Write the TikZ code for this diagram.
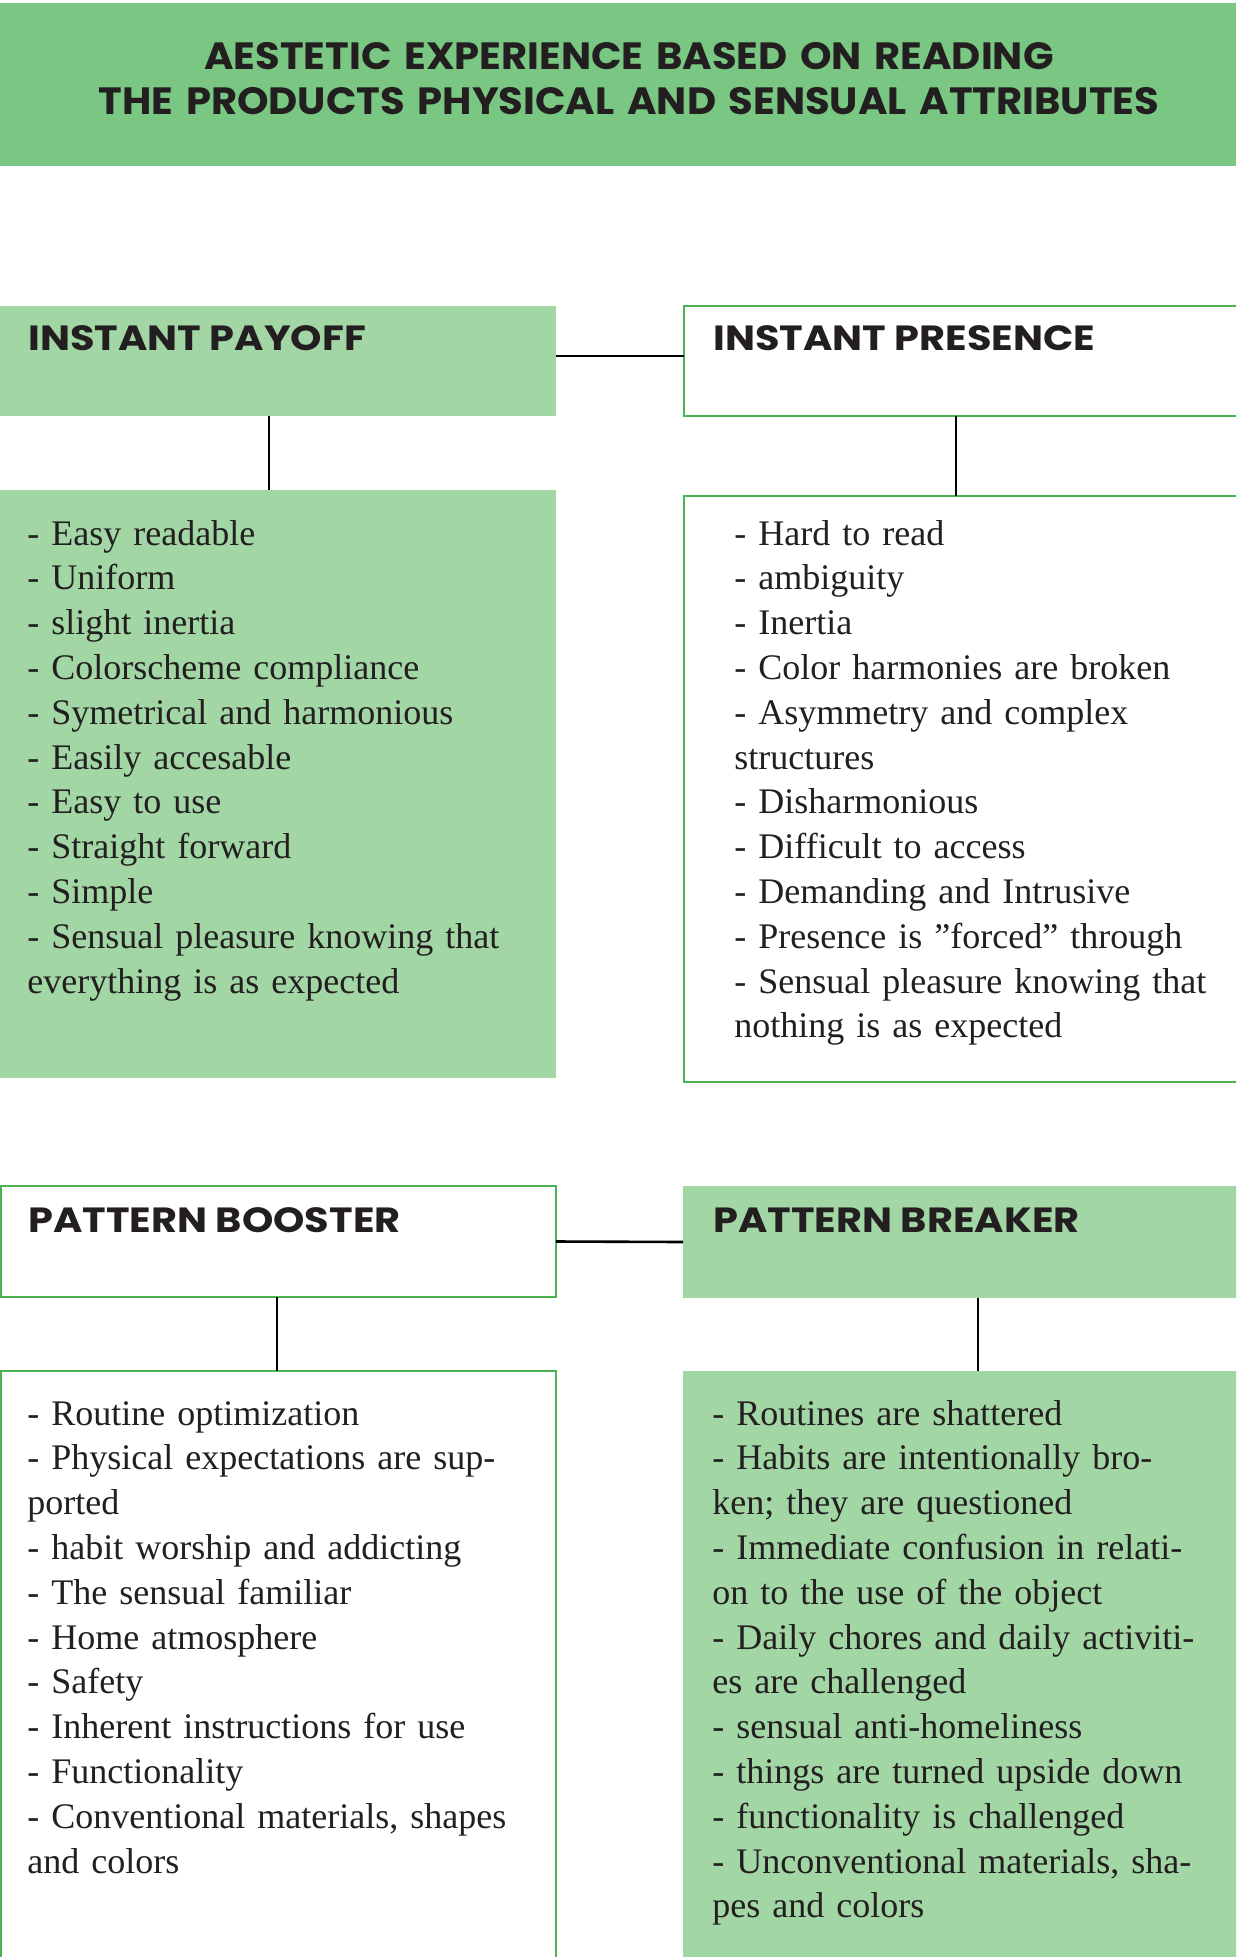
\documentclass[tikz,border=0pt]{standalone}
\usepackage{fontspec}
\setmainfont{Liberation Serif}
\newfontfamily\headfont{Poppins}[FakeStretch=1.14]
\newfontfamily\titlefont{Poppins}[FakeStretch=1.055]
\usetikzlibrary{positioning}
\definecolor{headgreen}{RGB}{121,199,131}
\definecolor{softgreen}{RGB}{162,214,165}
\definecolor{linegreen}{RGB}{76,178,82}
\definecolor{ink}{RGB}{35,31,32}
\tikzstyle{filled box}=[anchor=north west, inner sep=0pt, outer sep=0pt, fill=softgreen]
\tikzstyle{open box}=[anchor=north west, inner sep=0pt, outer sep=0pt, draw=linegreen, line width=1.3pt, fill=white]
\tikzstyle{heading}=[anchor=base west, inner sep=0pt, text=ink, font=\headfont\bfseries\fontsize{17.5pt}{21pt}\selectfont]
\tikzstyle{list}=[anchor=base west, inner sep=0pt, text=ink, text width=300pt, align=left, font=\fontsize{18pt}{22.4pt}\selectfont]
\tikzstyle{bridge}=[line width=1.3pt, black]
\tikzstyle{stem}=[line width=0.8pt, black]

\begin{document}
\begin{tikzpicture}[x=0.5pt, y=-0.5pt]
      \useasboundingbox (0,0) rectangle (1236,1957);
      \clip (0,0) rectangle (1236,1957);
      \node[anchor=north west, inner sep=0pt, fill=headgreen, minimum width=618pt, minimum height=81.5pt] (header) at (0,3) {};
      \node[anchor=base, inner sep=0pt, text=ink, text width=600pt, align=center, font=\titlefont\bfseries\fontsize{19pt}{22.5pt}\selectfont] (title) at (629,70)
        {AESTETIC EXPERIENCE BASED ON READING\\THE PRODUCTS PHYSICAL AND SENSUAL ATTRIBUTES};

      \node[filled box, minimum width=278pt, minimum height=55pt] (payoff) at (0,306) {};
      \node[open box, minimum width=280pt, minimum height=55pt] (presence) at (684,306) {};
      \node[filled box, minimum width=278pt, minimum height=294pt] (payoffList) at (0,490) {};
      \node[open box, minimum width=280pt, minimum height=293pt] (presenceList) at (684,496) {};
      \node[open box, minimum width=277.5pt, minimum height=55.5pt] (booster) at (1,1186) {};
      \node[filled box, minimum width=280pt, minimum height=56pt] (breaker) at (683,1186) {};
      \node[open box, minimum width=277.5pt, minimum height=300pt] (boosterList) at (1,1371) {};
      \node[filled box, minimum width=280pt, minimum height=300pt] (breakerList) at (683,1371) {};

      \node[heading] (payoffTitle) at (28,351) {INSTANT PAYOFF};
      \node[heading] (presenceTitle) at (713,351) {INSTANT PRESENCE};
      \node[heading] (boosterTitle) at (28,1232) {PATTERN BOOSTER};
      \node[heading] (breakerTitle) at (713,1232) {PATTERN BREAKER};

      \draw[bridge] ([yshift=2.5pt]payoff.east) to ([yshift=2.5pt]presence.west);
      \draw[bridge] (booster.east) to (breaker.west);
      \draw[stem] ([xshift=-4.5pt]payoff.south) to ([xshift=-4.5pt]payoff.south |- payoffList.north);
      \draw[stem] ([xshift=-4pt]presence.south) to ([xshift=-4pt]presence.south |- presenceList.north);
      \draw[stem] ([xshift=-0.75pt]booster.south) to ([xshift=-0.75pt]booster.south |- boosterList.north);
      \draw[stem] ([xshift=7.5pt]breaker.south) to ([xshift=7.5pt]breaker.south |- breakerList.north);

      \node[list] (payoffItems) at (27,545) {- Easy readable\\- Uniform\\- slight inertia\\- Colorscheme compliance\\- Symetrical and harmonious\\- Easily accesable\\- Easy to use\\- Straight forward\\- Simple\\- Sensual pleasure knowing that\\everything is as expected};
      \node[list] (presenceItems) at (734,545) {- Hard to read\\- ambiguity\\- Inertia\\- Color harmonies are broken\\- Asymmetry and complex\\structures\\- Disharmonious\\- Difficult to access\\- Demanding and Intrusive\\- Presence is ”forced” through\\- Sensual pleasure knowing that\\nothing is as expected};
      \node[list] (boosterItems) at (27,1425) {- Routine optimization\\- Physical expectations are sup-\\ported\\- habit worship and addicting\\- The sensual familiar\\- Home atmosphere\\- Safety\\- Inherent instructions for use\\- Functionality\\- Conventional materials, shapes\\and colors};
      \node[list] (breakerItems) at (712,1425) {- Routines are shattered\\- Habits are intentionally bro-\\ken; they are questioned\\- Immediate confusion in relati-\\on to the use of the object\\- Daily chores and daily activiti-\\es are challenged\\- sensual anti-homeliness\\- things are turned upside down\\- functionality is challenged\\- Unconventional materials, sha-\\pes and colors};
    \end{tikzpicture}
\end{document}
